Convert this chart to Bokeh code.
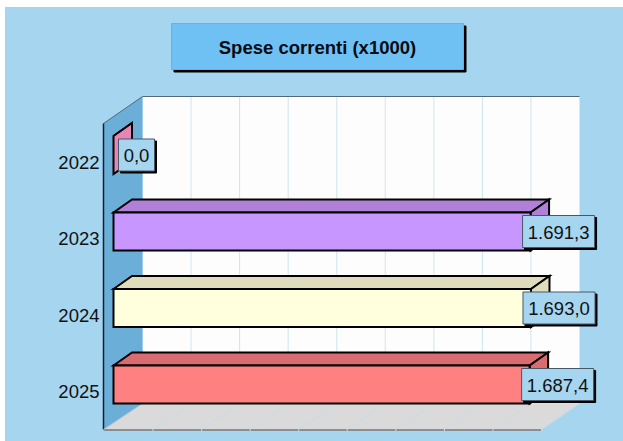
from bokeh.plotting import figure
from bokeh.models import Range1d, FixedTicker, NumeralTickFormatter
from bokeh.core.properties import value
from bokeh.embed import file_html
from bokeh.resources import INLINE

years = [2022, 2023, 2024, 2025]
spese = [0.0, 1691.3, 1693.0, 1687.4]
labels = ["0,0", "1.691,3", "1.693,0", "1.687,4"]
title_text = "Spese correnti (x1000)"
grid_values = [0, 200, 400, 600, 800, 1000, 1200, 1400, 1600, 1800]

front_colors = ["#E586B5", "#C896FF", "#FFFFDD", "#FF8080"]
top_colors = ["#E586B5", "#B080D8", "#DEDCBC", "#D86C70"]
BG = "#A6D5F0"
FONT = value("Liberation Sans")

# page geometry: the picture's coloured area starts at (5, 7)
ORG_X, ORG_Y = 5, 7
W, H = 618, 434
FRAME_L = 101
K = 0.2466       # px per value unit for bars
YS = 76.5        # px per year
X0, Y0 = 113, 161.5


def xd(px):
    return (px - X0) / K


def yd(py):
    return 2022 + (py - Y0) / YS


p = figure(width=W, height=H, output_backend="svg", toolbar_location=None,
           x_range=Range1d(xd(FRAME_L), xd(ORG_X + W)),
           y_range=Range1d(yd(ORG_Y + H), yd(ORG_Y)),
           min_border_left=FRAME_L - ORG_X, min_border_right=0,
           min_border_top=0, min_border_bottom=0,
           background_fill_color=BG, border_fill_color=BG, outline_line_color=None)
p.styles = {"position": "absolute", "left": f"{ORG_X}px", "top": f"{ORG_Y}px",
            "background-color": BG}
p.xaxis.visible = False
p.xgrid.visible = False
p.ygrid.visible = False
ax = p.yaxis[0]
ax.ticker = FixedTicker(ticks=years)
ax.formatter = NumeralTickFormatter(format="0")
ax.axis_line_color = None
ax.major_tick_line_color = None
ax.minor_tick_line_color = None
ax.major_tick_out = 0
ax.major_tick_in = 0
ax.major_label_standoff = 2
ax.major_label_text_font = "Liberation Sans"
ax.major_label_text_font_size = "18.5px"
ax.major_label_text_color = "#111111"
ax.major_label_orientation = "horizontal"

# 3D shell
WL, WR, WT, WB = 142, 579, 96, 403
FL, FR, FB, FT = 104, 541, 429, 123


def gx(v, px_left):
    return px_left + v * (WR - WL) / grid_values[-1]


p.patch([xd(WL), xd(WR), xd(WR), xd(WL)], [yd(WT), yd(WT), yd(WB), yd(WB)],
        fill_color="#FDFDFD", line_color=None)
p.patch([xd(WL), xd(WR), xd(FR), xd(FL)], [yd(WB), yd(WB), yd(FB), yd(FB)],
        fill_color="#DADADA", line_color=None)
p.patch([xd(FL - 1), xd(WL), xd(WL), xd(FL - 1)], [yd(FT), yd(WT), yd(WB), yd(FB)],
        fill_color="#6BAFD9", line_color=None)
for v in grid_values[1:]:
    if v != grid_values[-1]:
        p.line([xd(gx(v, WL))] * 2, [yd(WT), yd(WB)], line_color="#CFE5F0", line_width=1)
    p.line([xd(gx(v, WL)), xd(gx(v, FL))], [yd(WB), yd(FB)], line_color="#C8DCE8", line_width=1)
p.line([xd(WL), xd(WR)], [yd(WT), yd(WT)], line_color="#55677A", line_width=1)
p.line([xd(FL - 1), xd(WL)], [yd(FT), yd(WT)], line_color="#55677A", line_width=1)
p.line([xd(FL - 1), xd(FL - 1)], [yd(FT), yd(FB)], line_color="#10202C", line_width=1.5)
p.line([xd(FL - 1), xd(FR)], [yd(FB + 0.5), yd(FB + 0.5)], line_color="#8A8F94", line_width=2)
for v in grid_values[1:]:
    p.line([xd(gx(v, FL))] * 2, [yd(FB - 0.5), yd(FB + 1.5)], line_color="#C8DCE8", line_width=1)
p.line([xd(FL - 1), xd(WL)], [yd(FB), yd(WB)], line_color="#B8C4CC", line_width=1)

# bars
DX, DY = 18.5, 13
BAR_H = 38
CENTER = -7
for yr, v, fc, tc in zip(years, spese, front_colors, top_colors):
    x1 = X0 + K * v
    c = Y0 + (yr - 2022) * YS + CENTER
    t, b = c - BAR_H / 2, c + BAR_H / 2
    style = dict(line_color="black", line_width=2, line_join="miter")
    p.patch([xd(X0), xd(X0 + DX), xd(x1 + DX), xd(x1)],
            [yd(t), yd(t - DY), yd(t - DY), yd(t)], fill_color=tc, **style)
    p.patch([xd(x1), xd(x1 + DX), xd(x1 + DX), xd(x1)],
            [yd(t), yd(t - DY), yd(b - DY), yd(b)], fill_color=tc, **style)
    if v > 0:
        p.patch([xd(X0), xd(x1), xd(x1), xd(X0)], [yd(t), yd(t), yd(b), yd(b)],
                fill_color=fc, **style)


def box(l, r, t, b, fill, line, shadow=2):
    p.patch([xd(l + shadow), xd(r + shadow), xd(r + shadow), xd(l + shadow)],
            [yd(t + shadow), yd(t + shadow), yd(b + shadow), yd(b + shadow)],
            fill_color="black", line_color="black", line_width=1)
    p.patch([xd(l), xd(r), xd(r), xd(l)], [yd(t), yd(t), yd(b), yd(b)],
            fill_color=fill, line_color=line, line_width=1)


# value labels
for yr, v, lab in zip(years, spese, labels):
    x1 = X0 + K * v
    c = Y0 + (yr - 2022) * YS + CENTER
    w = 72 if v > 0 else 36
    l = x1 - 8 if v > 0 else x1 + 5
    box(l, l + w, c - 16, c + 16, BG, "#45586A")
    p.text([xd(l + w / 2)], [yd(c + 0.5)], text=[lab], text_font=FONT,
           text_font_size="18.5px", text_color="#111111",
           text_align="center", text_baseline="middle")

# title box
box(171, 463, 23, 69, "#6EC1F2", "#7AAEC8", shadow=2.5)
p.text([xd(317)], [yd(47)], text=[title_text], text_font=FONT, text_font_style="bold",
       text_font_size="18.5px", text_color="#0B0B14",
       text_align="center", text_baseline="middle")

open("out.html", "w").write(file_html(p, INLINE))
